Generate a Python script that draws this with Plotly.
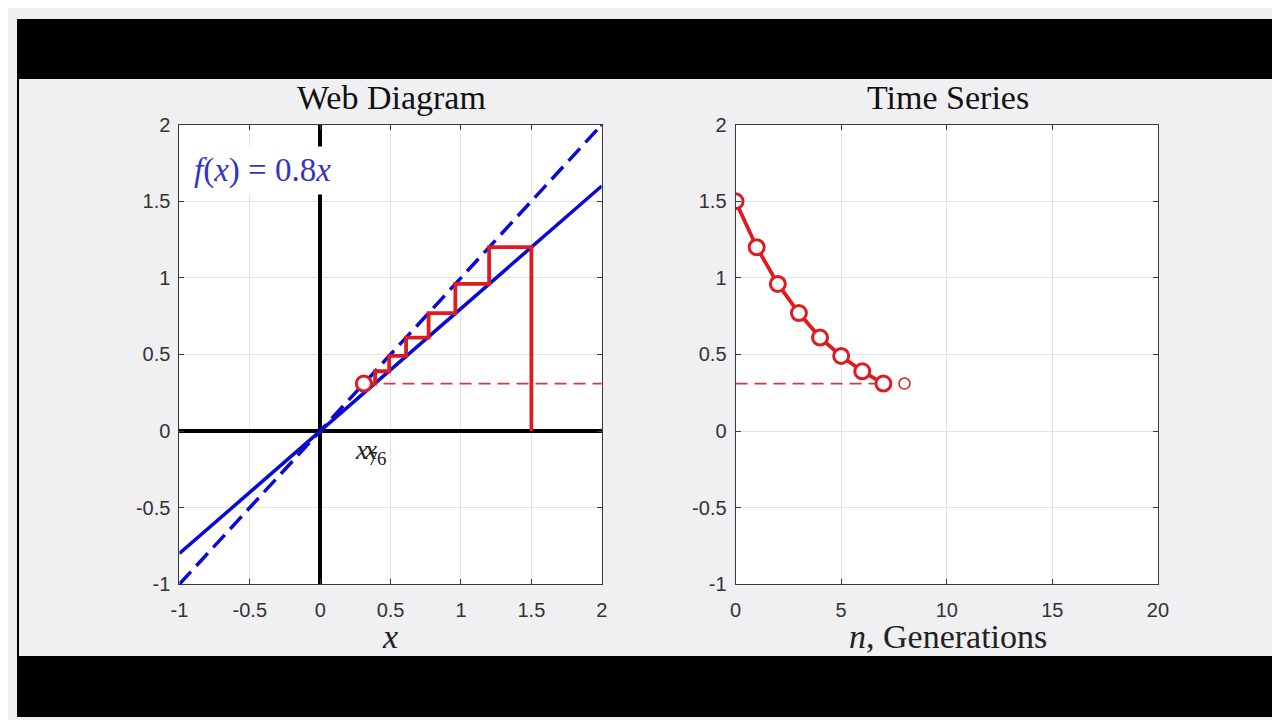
import plotly.graph_objects as go
from plotly.subplots import make_subplots

# iterates of x_{n+1} = 0.8 x_n
generations = [0, 1, 2, 3, 4, 5, 6, 7]
iterates = [1.5, 1.2, 0.96, 0.77, 0.61, 0.49, 0.39, 0.31]
next_n = [8]
next_x = [0.31]

# lines in the web diagram
line_x = [-1, 2]
f_y = [-0.8, 1.6]          # f(x) = 0.8x
diag_y = [-1, 2]           # y = x
fixed_web_x = [0.45, 2]
fixed_ts_n = [0, 7]
fixed_y = [0.31, 0.31]

web_ticks = [-1, -0.5, 0, 0.5, 1, 1.5, 2]
ts_xticks = [0, 5, 10, 15, 20]

BLUE = "#0a0ad6"
RED = "#e01b1f"
DASHRED = "#d6393b"
GRID = "#e3e3e3"
FRAME = "#3a3a3a"
BG = "#f0eff2"
SERIF = "Liberation Serif"
SANS = "Liberation Sans"

# cobweb path: start on the x axis, then up/across between f and the diagonal
web_x = [iterates[0]]
web_y = [0]
for a, b in zip(iterates[:-1], iterates[1:]):
    web_x += [a, b]
    web_y += [b, b]

fig = make_subplots(rows=1, cols=2)

# blue lines
fig.add_trace(go.Scatter(x=line_x, y=diag_y, mode="lines",
                         line=dict(color=BLUE, width=3.5, dash="17px,8px")), row=1, col=1)
fig.add_trace(go.Scatter(x=line_x, y=f_y, mode="lines",
                         line=dict(color=BLUE, width=3.5)), row=1, col=1)
fig.add_trace(go.Scatter(x=[line_x[-1]], y=[diag_y[-1]], mode="markers",
                         marker=dict(color=BLUE, size=4)), row=1, col=1)

# dashed fixed level
fig.add_trace(go.Scatter(x=fixed_web_x, y=fixed_y, mode="lines",
                         line=dict(color=DASHRED, width=1.8, dash="12px,7px")), row=1, col=1)

# cobweb
fig.add_trace(go.Scatter(x=web_x, y=web_y, mode="lines",
                         line=dict(color=RED, width=3.8)), row=1, col=1)
fig.add_trace(go.Scatter(x=[iterates[-1]], y=[iterates[-1]], mode="markers",
                         marker=dict(color="white", size=15, symbol="circle",
                                     line=dict(color=RED, width=3))), row=1, col=1)

# time series
fig.add_trace(go.Scatter(x=fixed_ts_n, y=fixed_y, mode="lines",
                         line=dict(color=DASHRED, width=1.8, dash="12px,7px")), row=1, col=2)
fig.add_trace(go.Scatter(x=generations, y=iterates, mode="lines+markers",
                         line=dict(color=RED, width=3.8),
                         marker=dict(color="white", size=15,
                                     line=dict(color=RED, width=3))), row=1, col=2)
fig.add_trace(go.Scatter(x=next_n, y=next_x, mode="markers",
                         marker=dict(color="white", size=11,
                                     line=dict(color=RED, width=1.5))), row=1, col=2)

axis_common = dict(showgrid=True, gridcolor=GRID, gridwidth=1,
                   showline=True, linecolor=FRAME, linewidth=1, mirror="ticks",
                   ticks="inside", ticklen=5, tickcolor=FRAME,
                   tickfont=dict(family=SANS, size=20, color="#333333"))

fig.update_xaxes(axis_common, ticklabelstandoff=8)
fig.update_yaxes(axis_common, ticklabelstandoff=4)

fig.update_xaxes(domain=[0.1289, 0.4641], range=[-1, 2], tickvals=web_ticks,
                 ticktext=[f"{v:g}" for v in web_ticks],
                 zeroline=True, zerolinecolor="black", zerolinewidth=3.5, row=1, col=1)
fig.update_yaxes(domain=[0.1903, 0.8486], range=[-1, 2], tickvals=web_ticks,
                 ticktext=[f"{v:g}" for v in web_ticks],
                 zeroline=True, zerolinecolor="black", zerolinewidth=3.5, row=1, col=1)
fig.update_xaxes(domain=[0.5703, 0.9055], range=[0, 20], tickvals=ts_xticks,
                 zeroline=False, row=1, col=2)
fig.update_yaxes(domain=[0.1903, 0.8486], range=[-1, 2], tickvals=web_ticks,
                 ticktext=[f"{v:g}" for v in web_ticks],
                 zeroline=False, row=1, col=2)

annotations = [
    dict(text="Web Diagram", x=0.297, y=0.8875, xref="paper", yref="paper",
         xanchor="center", yanchor="middle",
         showarrow=False, font=dict(family=SERIF, size=34, color="#111111")),
    dict(text="Time Series", x=0.739, y=0.8875, xref="paper", yref="paper",
         xanchor="center", yanchor="middle",
         showarrow=False, font=dict(family=SERIF, size=34, color="#111111")),
    dict(text="<i>x</i>", x=0.296, y=0.1153, xref="paper", yref="paper",
         xanchor="center", yanchor="middle",
         showarrow=False, font=dict(family=SERIF, size=34, color="#222222")),
    dict(text="<i>n</i>, Generations", x=0.739, y=0.1153, xref="paper", yref="paper",
         xanchor="center", yanchor="middle",
         showarrow=False, font=dict(family=SERIF, size=34, color="#222222")),
    dict(text="<i>f</i>(<i>x</i>) = 0.8<i>x</i>", x=-0.94, y=1.7, xref="x", yref="y",
         xanchor="left", yanchor="middle", showarrow=False, bgcolor="white", borderpad=5,
         font=dict(family=SERIF, size=33, color="#3434c4")),
    dict(text="<i>x</i><sub>7</sub>", x=0.23, y=-0.14, xref="x", yref="y",
         xanchor="left", yanchor="middle", showarrow=False,
         font=dict(family=SERIF, size=27, color="#222222")),
    dict(text="<i>x</i><sub>6</sub>", x=0.3, y=-0.14, xref="x", yref="y",
         xanchor="left", yanchor="middle", showarrow=False,
         font=dict(family=SERIF, size=27, color="#222222")),
]

shapes = [
    dict(type="rect", xref="paper", yref="paper", x0=0, x1=1, y0=0.914, y1=1,
         fillcolor="black", line_width=0, layer="above"),
    dict(type="rect", xref="paper", yref="paper", x0=0, x1=1, y0=0, y1=0.0875,
         fillcolor="black", line_width=0, layer="above"),
    dict(type="rect", xref="paper", yref="paper", x0=0, x1=0.0016, y0=0, y1=1,
         fillcolor="black", line_width=0, layer="above"),
    dict(type="rect", xref="paper", yref="paper", x0=0.9977, x1=1, y0=0, y1=1,
         fillcolor="black", line_width=0, layer="above"),
]

fig.update_layout(width=1280, height=720, margin=dict(l=0, r=0, t=0, b=0),
                  paper_bgcolor=BG, plot_bgcolor="white", showlegend=False,
                  annotations=annotations, shapes=shapes)

fig.write_html("out.html")
